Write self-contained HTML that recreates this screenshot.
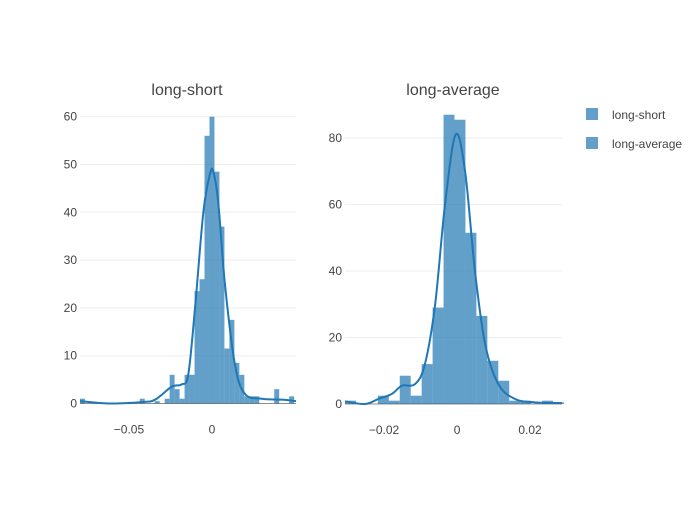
<!DOCTYPE html>
<html><head><meta charset="utf-8"><style>
body{margin:0;background:#fff;font-family:"Liberation Sans",sans-serif}
svg text{font-family:"Liberation Sans",sans-serif;fill:#444}
</style></head><body>
<svg id="chart" width="700" height="500" viewBox="0 0 700 500">
<g id="p1"></g>
<g id="p2"></g>
<text x="187" y="95" text-anchor="middle" font-size="16">long-short</text>
<text x="453" y="95" text-anchor="middle" font-size="16">long-average</text>
<g>
<g><rect x="586" y="108" width="12" height="12" fill="#1f77b4" fill-opacity="0.7"/><text x="612" y="119" font-size="12">long-short</text></g>
<g><rect x="586" y="137" width="12" height="12" fill="#1f77b4" fill-opacity="0.7"/><text x="612" y="148" font-size="12">long-average</text></g>
</g>
</svg>
<script>
// long-short
const binStart1 = -0.0795, binWidth1 = 0.003;
const counts1 = [1,0,0,0,0,0,0,0,0,0,0,0,1,0,0,0.5,0,1,6,3,1,6,6,23.5,26,56,60,48.5,37,11.5,17.5,8.5,6,1.5,1.5,1.5,0,0,0,3,0,0,1.5];
const kdeX1 = [-0.0795,-0.0625,-0.0424,-0.0343,-0.0243,-0.0183,-0.0143,-0.0102,-0.0052,-0.0012,0.0008,0.0038,0.0078,0.0139,0.0199,0.0299,0.042,0.0506];
const kdeY1 = [0.5,0,0.3,0.8,3.5,4,6,20,40,48,48.5,42,25,8,2,1,0.8,0.5];
const yTicks1 = [0,10,20,30,40,50,60];
const xTicks1 = [-0.05,0];
const xTickLabels1 = ["\u22120.05","0"];
// long-average
const binStart2 = -0.0307, binWidth2 = 0.003;
const counts2 = [1,0,0,2.5,1,8.5,2.5,12,29,87,85.5,51.5,26.5,13,7,1,1,0,1,0.5];
const kdeX2 = [-0.0307,-0.0252,-0.0216,-0.0179,-0.0151,-0.0115,-0.0088,-0.006,-0.0033,-0.0004,0.0022,0.0049,0.0077,0.0113,0.0159,0.0213,0.0287];
const kdeY2 = [0.8,0,1.5,3,5.5,6,12,30,60,81,70,40,18,6,1.5,0.5,0.3];
const yTicks2 = [0,20,40,60,80];
const xTicks2 = [-0.02,0,0.02];
const xTickLabels2 = ["\u22120.02","0","0.02"];

const NS="http://www.w3.org/2000/svg";
function mk(tag,attrs,parent){const e=document.createElementNS(NS,tag);for(const k in attrs)e.setAttribute(k,attrs[k]);parent.appendChild(e);return e;}
function spline(pts){let d="M"+pts[0][0]+","+pts[0][1];for(let i=0;i<pts.length-1;i++){const p0=pts[Math.max(i-1,0)],p1=pts[i],p2=pts[i+1],p3=pts[Math.min(i+2,pts.length-1)];const c1=[p1[0]+(p2[0]-p0[0])/6,p1[1]+(p2[1]-p0[1])/6],c2=[p2[0]-(p3[0]-p1[0])/6,p2[1]-(p3[1]-p1[1])/6];d+=" C"+c1+" "+c2+" "+p2;}return d;}
function draw(g,cfg){
  const sx=v=>cfg.x0+(v-cfg.d0)*cfg.kx, sy=v=>cfg.y0-v*cfg.ky;
  cfg.yTicks.forEach(t=>{
    if(t>0){const l=mk("line",{x1:cfg.x0,x2:cfg.x1,y1:sy(t),y2:sy(t),stroke:"#eee","stroke-width":1},g);
    
    }
    const tx=mk("text",{x:cfg.x0-3,y:sy(t)+4,"text-anchor":"end","font-size":12},g);tx.textContent=t;
    
    
  });
  cfg.xTicks.forEach((t,i)=>{
    const tx=mk("text",{x:sx(t),y:cfg.y0+30,"text-anchor":"middle","font-size":12},g);tx.textContent=cfg.xLabels[i];
    
    
  });
  cfg.counts.forEach((c,i)=>{
    if(c<=0)return;
    const a=sx(cfg.bs+i*cfg.bw), b=sx(cfg.bs+(i+1)*cfg.bw);
    const r=mk("rect",{x:a,y:sy(c),width:b-a,height:c*cfg.ky,fill:"#1f77b4","fill-opacity":0.7},g);
    
    
  });
  const z=mk("line",{x1:cfg.x0,x2:cfg.x1,y1:cfg.y0,y2:cfg.y0,stroke:"#444","stroke-width":1,"stroke-opacity":0.6},g);
  
  
  const pts=cfg.kx_.map((v,i)=>[sx(v),sy(cfg.ky_[i])]);
  const p=mk("path",{d:spline(pts),fill:"none",stroke:"#1f77b4","stroke-width":2},g);
  
  
}
draw(document.getElementById("p1"),{x0:80,x1:296,d0:-0.0795,kx:1660,y0:403.5,ky:4.78,yTicks:yTicks1,xTicks:xTicks1,xLabels:xTickLabels1,counts:counts1,bs:binStart1,bw:binWidth1,kx_:kdeX1,ky_:kdeY1});
draw(document.getElementById("p2"),{x0:345,x1:562,d0:-0.0307,kx:3650,y0:404,ky:3.325,yTicks:yTicks2,xTicks:xTicks2,xLabels:xTickLabels2,counts:counts2,bs:binStart2,bw:binWidth2,kx_:kdeX2,ky_:kdeY2});
</script>
</body></html>
